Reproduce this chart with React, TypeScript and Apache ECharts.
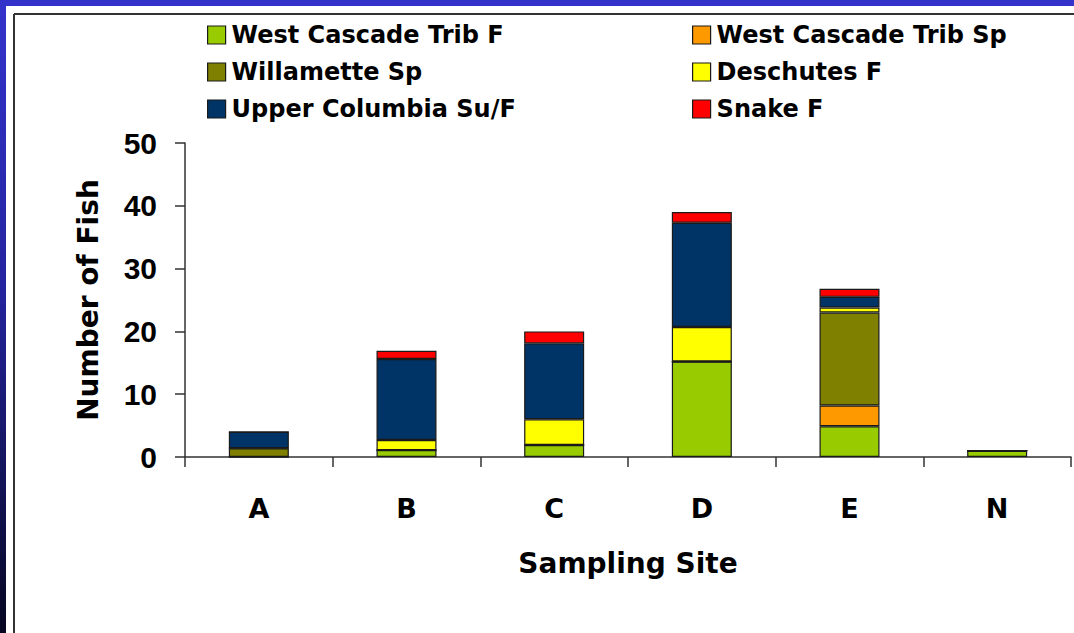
import React, { useEffect, useRef } from "react";
import * as echarts from "echarts";

const categories = ["A", "B", "C", "D", "E", "N"];
const westCascadeTribF = [0, 1.1, 1.9, 15.2, 4.9, 1];
const westCascadeTribSp = [0, 0, 0, 0, 3.3, 0];
const willametteSp = [1.4, 0, 0, 0, 14.8, 0];
const deschutesF = [0, 1.6, 4.1, 5.5, 0.8, 0];
const upperColumbiaSuF = [2.6, 12.9, 12.1, 16.6, 1.7, 0];
const snakeF = [0, 1.3, 1.9, 1.7, 1.3, 0];
const yTicks = [0, 10, 20, 30, 40, 50];

const seriesDefs = [
  { name: "West Cascade Trib F", data: westCascadeTribF, color: "#99cc00" },
  { name: "West Cascade Trib Sp", data: westCascadeTribSp, color: "#ff9900" },
  { name: "Willamette Sp", data: willametteSp, color: "#808000" },
  { name: "Deschutes F", data: deschutesF, color: "#ffff00" },
  { name: "Upper Columbia Su/F", data: upperColumbiaSuF, color: "#003366" },
  { name: "Snake F", data: snakeF, color: "#ff0000" },
];

export default function App() {
  const ref = useRef<HTMLDivElement>(null);
  useEffect(() => {
    if (!ref.current) return;
    const chart = echarts.init(ref.current, null, { renderer: "svg" });
    const wide = "DejaVu Sans";
    const legendCommon = {
      orient: "vertical" as const,
      top: 23,
      padding: 0,
      itemWidth: 18,
      itemHeight: 18,
      itemGap: 13,
      icon: "rect",
      itemStyle: { borderColor: "#1a1a1a", borderWidth: 1.2 },
      textStyle: { fontFamily: wide, fontWeight: "bold", fontSize: 24, color: "#000", padding: [0, 0, 0, 1] },
      selectedMode: false,
    };
    chart.setOption({
      animation: false,
      backgroundColor: "#ffffff",
      legend: [
        { ...legendCommon, left: 207, data: [seriesDefs[0].name, seriesDefs[2].name, seriesDefs[4].name] },
        { ...legendCommon, left: 692, data: [seriesDefs[1].name, seriesDefs[3].name, seriesDefs[5].name] },
      ],
      grid: { left: 185, right: 3, top: 143, bottom: 176, containLabel: false },
      xAxis: {
        type: "category",
        data: categories,
        boundaryGap: true,
        axisLine: { lineStyle: { color: "#333", width: 1.5 } },
        axisTick: { show: true, length: 10, alignWithLabel: false, lineStyle: { color: "#333", width: 1.5 } },
        axisLabel: { color: "#000", fontFamily: wide, fontWeight: "bold", fontSize: 27, margin: 38 },
        name: "Sampling Site",
        nameLocation: "middle",
        nameGap: 92,
        nameTextStyle: { color: "#000", fontFamily: wide, fontWeight: "bold", fontSize: 28 },
      },
      yAxis: {
        type: "value",
        min: yTicks[0],
        max: yTicks[yTicks.length - 1],
        interval: 10,
        splitLine: { show: false },
        axisLine: { show: true, lineStyle: { color: "#333", width: 1.5 } },
        axisTick: { show: true, length: 10, lineStyle: { color: "#333", width: 1.5 } },
        axisLabel: { color: "#000", fontFamily: "Liberation Sans", fontWeight: "bold", fontSize: 30, margin: 28 },
        name: "Number of Fish",
        nameLocation: "middle",
        nameGap: 83,
        nameRotate: 90,
        nameTextStyle: { color: "#000", fontFamily: wide, fontWeight: "bold", fontSize: 28 },
      },
      series: seriesDefs.map((s) => ({
        name: s.name,
        type: "bar",
        stack: "total",
        barWidth: 60,
        data: s.data,
        itemStyle: { color: s.color, borderColor: "#1a1a1a", borderWidth: 1.2 },
      })),
      graphic: [
        {
          type: "rect",
          shape: { x: 0, y: 0, width: 1074, height: 6 },
          style: { fill: "#3333cc" },
          silent: true,
        },
        {
          type: "rect",
          shape: { x: 0, y: 0, width: 6, height: 633 },
          style: {
            fill: new echarts.graphic.LinearGradient(0, 0, 0, 1, [
              { offset: 0, color: "#3333cc" },
              { offset: 0.45, color: "#2424a0" },
              { offset: 1, color: "#060620" },
            ]),
          },
          silent: true,
        },
        {
          type: "line",
          shape: { x1: 14, y1: 14, x2: 1074, y2: 14 },
          style: { stroke: "#333", lineWidth: 2 },
          silent: true,
        },
        {
          type: "line",
          shape: { x1: 14, y1: 14, x2: 14, y2: 633 },
          style: { stroke: "#333", lineWidth: 2 },
          silent: true,
        },
      ],
    });
    return () => chart.dispose();
  }, []);
  return (
    <div
      ref={ref}
      style={{ position: "absolute", left: 0, top: 0, width: 1074, height: 633 }}
    />
  );
}
